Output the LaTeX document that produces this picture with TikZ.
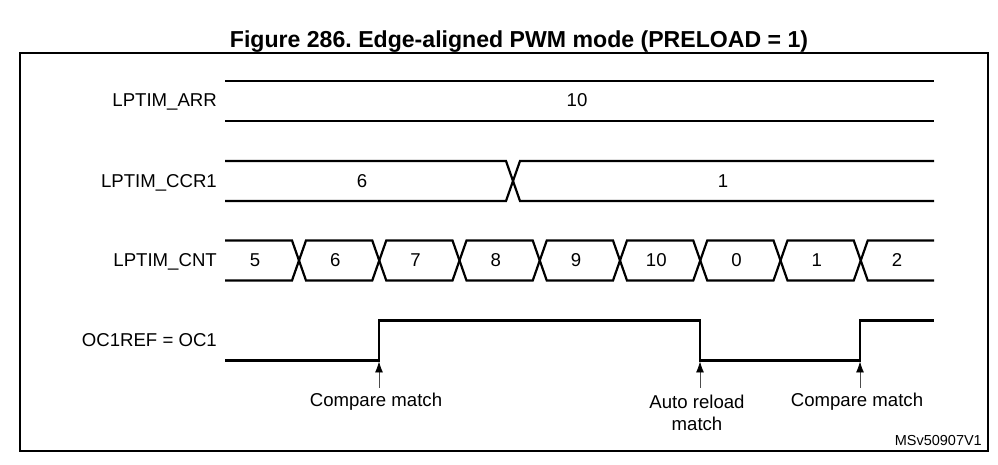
\documentclass[tikz,border=0pt]{standalone}
\usepackage{fontspec}
\setmainfont{Liberation Sans}
\usetikzlibrary{arrows.meta}
\frenchspacing
\begin{document}
\begin{tikzpicture}[x=1bp,y=-1bp,
  sig/.style={line width=2.2bp, line join=miter},
  frame/.style={line width=2bp},
  lbl/.style={anchor=base east, inner sep=0pt, font=\fontsize{18.6bp}{22bp}\selectfont},
  val/.style={anchor=base, inner sep=0pt, font=\fontsize{18.6bp}{22bp}\selectfont},
  ann/.style={anchor=base, inner sep=0pt, font=\fontsize{18.6bp}{22bp}\selectfont},
  ttl/.style={anchor=base, inner sep=0pt, font=\bfseries\fontsize{23.1bp}{28bp}\selectfont},
  ref/.style={anchor=base east, inner sep=0pt, font=\fontsize{14.5bp}{17bp}\selectfont},
  evt/.style={line width=0.8bp, black!70, -{Latex[length=11bp,width=8bp,black]}}
]
\useasboundingbox (0,0) rectangle (998,465);
\fill[white] (0,0) rectangle (998,465);
\node[ttl] (title) at (519,48) {Figure 286. Edge-aligned PWM mode (PRELOAD = 1)};
\draw[frame] (20,53) rectangle (988,451);

% signal names
\node[lbl] (larr) at (217,107) {LPTIM\_ARR};
\node[lbl] (lccr) at (217,188) {LPTIM\_CCR1};
\node[lbl] (lcnt) at (217,267) {LPTIM\_CNT};
\node[lbl] (loc)  at (217,347) {OC1REF = OC1};

% LPTIM_ARR
\draw[sig] (225,81) -- (934,81);
\draw[sig] (225,121) -- (934,121);
\node[val] (varr) at (577,107) {10};

% LPTIM_CCR1
\draw[sig] (225,161) -- (506,161) -- (520,201) -- (934,201);
\draw[sig] (225,201) -- (506,201) -- (520,161) -- (934,161);
\node[val] (vccr6) at (362,188) {6};
\node[val] (vccr1) at (723,188) {1};

% LPTIM_CNT
\def\T{240.5}\def\B{280.5}
\draw[sig] (225,\T) -- (292,\T) -- (306,\B) -- (372.25,\B) -- (386.25,\T) -- (452.5,\T) -- (466.5,\B) -- (532.75,\B) -- (546.75,\T) -- (613,\T) -- (627,\B) -- (693.25,\B) -- (707.25,\T) -- (773.5,\T) -- (787.5,\B) -- (853.75,\B) -- (867.75,\T) -- (934,\T);
\draw[sig] (225,\B) -- (292,\B) -- (306,\T) -- (372.25,\T) -- (386.25,\B) -- (452.5,\B) -- (466.5,\T) -- (532.75,\T) -- (546.75,\B) -- (613,\B) -- (627,\T) -- (693.25,\T) -- (707.25,\B) -- (773.5,\B) -- (787.5,\T) -- (853.75,\T) -- (867.75,\B) -- (934,\B);
\foreach \v [count=\k from 0] in {5,6,7,8,9,10,0,1,2}{
  \node[val] (vcnt\k) at ({255+80.25*\k},267) {\v};
}

% OC1REF = OC1
\draw[sig] (225,360.5) -- (379,360.5) -- (379,320.5) -- (700,320.5) -- (700,360.5) -- (860,360.5) -- (860,320.5) -- (934,320.5);

% events
\coordinate (e1) at (379,361.5);
\coordinate (e2) at (700,361.5);
\coordinate (e3) at (860,361.5);
\coordinate (s1) at (379,388);
\coordinate (s2) at (700,388);
\coordinate (s3) at (860,388);
\draw[evt] (s1) -- (e1);
\draw[evt] (s2) -- (e2);
\draw[evt] (s3) -- (e3);
\node[ann] (cm1) at (376,406) {Compare match};
\node[ann] (arm1) at (697,408) {Auto reload};
\node[ann] (arm2) at (697,430) {match};
\node[ann] (cm2) at (857,406) {Compare match};

\node[ref] (msv) at (982,445) {MSv50907V1};
\end{tikzpicture}
\end{document}
